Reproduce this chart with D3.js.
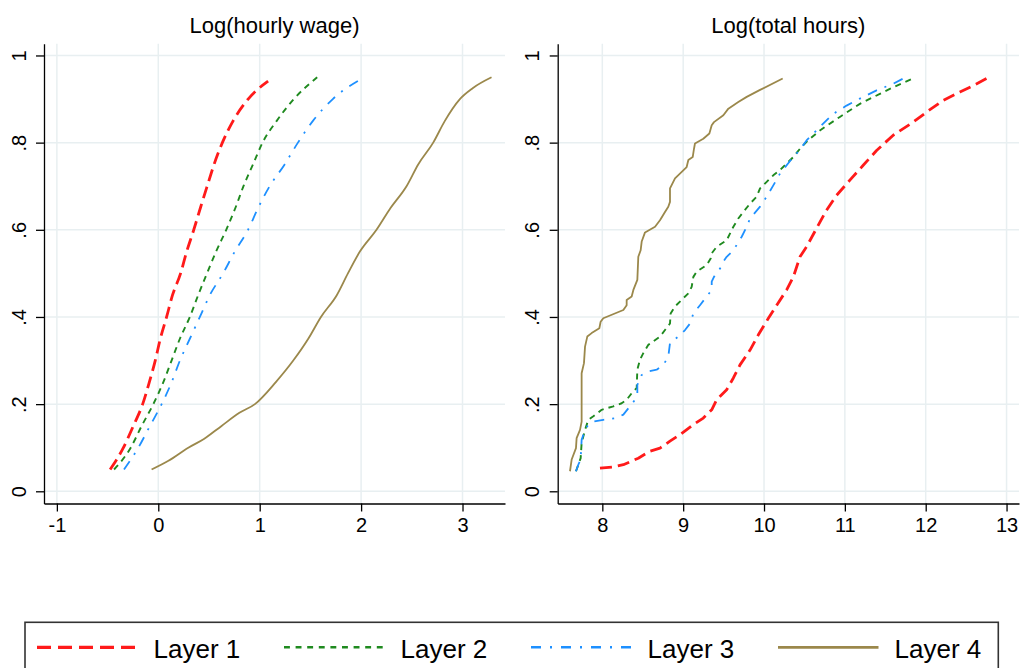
<!DOCTYPE html>
<html lang="en">
<head>
    <meta charset="UTF-8">
    <title>Quantiles by layer</title>
    <script src="https://d3js.org/d3.v7.min.js"></script>
    <style>
        body { margin: 0; background: #fff; }
        svg { display: block; font-family: "Liberation Sans", Arial, sans-serif; }
        .grid line { stroke: #e8eff1; stroke-width: 1.5; }
        .axis path, .axis line { stroke: #000; stroke-width: 1.3; }
        .axis text { font-size: 20px; fill: #000; font-family: "Liberation Sans", Arial, sans-serif; }
    </style>
</head>
<body>
    <svg id="chart" width="1020" height="668"></svg>

    <script>
        const W = 1020, H = 668;

        // Series names and styles
        const layers = ["Layer 1", "Layer 2", "Layer 3", "Layer 4"];
        const colors = ["#ff1a1a", "#1f8a1f", "#1e90ff", "#9b884b"];
        const widths = [2.8, 1.9, 1.8, 1.8];
        const dashes = ["12,6", "6,5", "10,8,2,8", null];
        const legendDashes = ["14,7", "5.9,5.7", "10,9,2,9", null];

        // Panel 1: log hourly wage, [value, cumulative share]
        const wageLayer1 = [[-0.475,0.05],[-0.344,0.1],[-0.246,0.15],[-0.154,0.2],[-0.089,0.25],[-0.03,0.3],
            [0.02,0.35],[0.082,0.4],[0.14,0.45],[0.22,0.5],[0.28,0.55],[0.35,0.6],[0.415,0.65],[0.482,0.7],
            [0.55,0.75],[0.632,0.8],[0.738,0.85],[0.886,0.9],[1.083,0.941]];
        const wageLayer2 = [[-0.436,0.05],[-0.272,0.1],[-0.164,0.15],[-0.049,0.2],[0.049,0.25],[0.131,0.3],
            [0.213,0.35],[0.311,0.4],[0.393,0.45],[0.48,0.5],[0.57,0.55],[0.67,0.6],[0.76,0.65],[0.84,0.7],
            [0.934,0.75],[1.028,0.8],[1.168,0.85],[1.337,0.9],[1.567,0.95]];
        const wageLayer3 = [[-0.338,0.05],[-0.197,0.1],[-0.082,0.15],[0.033,0.2],[0.131,0.25],[0.213,0.3],
            [0.311,0.35],[0.41,0.4],[0.508,0.45],[0.639,0.5],[0.754,0.55],[0.885,0.6],[0.984,0.65],[1.098,0.7],
            [1.246,0.75],[1.377,0.8],[1.525,0.85],[1.721,0.9],[2.015,0.948]];
        const wageLayer4 = [[-0.066,0.05],[0.1,0.07],[0.296,0.1],[0.45,0.12],[0.624,0.15],[0.8,0.18],[0.953,0.2],
            [1.157,0.25],[1.331,0.3],[1.479,0.35],[1.604,0.4],[1.76,0.45],[1.87,0.5],[1.988,0.55],
            [2.152,0.6],[2.29,0.65],[2.448,0.7],[2.563,0.75],[2.711,0.8],[2.826,0.85],[2.974,0.9],[3.1,0.925],[3.286,0.95]];

        // Panel 2: log total hours, [value, cumulative share]
        const hoursLayer1 = [[7.971,0.053],[8.136,0.056],[8.26,0.061],[8.445,0.076],[8.59,0.092],[8.713,0.099],
            [8.837,0.115],[8.961,0.13],[9.126,0.153],[9.249,0.168],[9.353,0.187],[9.414,0.21],[9.538,0.233],
            [9.621,0.26],[9.703,0.29],[9.827,0.324],[9.93,0.359],[9.992,0.378],[10.054,0.397],[10.157,0.427],
            [10.28,0.462],[10.363,0.492],[10.445,0.538],[10.526,0.561],[10.649,0.603],[10.773,0.645],
            [10.897,0.679],[11.062,0.714],[11.227,0.748],[11.392,0.782],[11.598,0.817],[11.845,0.847],
            [12.01,0.87],[12.216,0.897],[12.423,0.916],[12.588,0.931],[12.773,0.949]];
        const hoursLayer2 = [[7.674,0.046],[7.732,0.076],[7.744,0.111],[7.786,0.141],[7.827,0.164],[7.889,0.172],
            [7.992,0.187],[8.136,0.195],[8.239,0.202],[8.301,0.21],[8.363,0.225],[8.425,0.237],[8.433,0.279],
            [8.466,0.302],[8.507,0.317],[8.569,0.336],[8.713,0.355],[8.775,0.37],[8.837,0.385],[8.845,0.408],
            [8.899,0.424],[9.002,0.443],[9.064,0.454],[9.105,0.469],[9.126,0.492],[9.167,0.504],[9.291,0.519],
            [9.34,0.534],[9.353,0.546],[9.414,0.561],[9.538,0.576],[9.621,0.607],[9.682,0.626],[9.744,0.641],
            [9.827,0.66],[9.909,0.676],[9.951,0.695],[10.033,0.71],[10.115,0.725],[10.198,0.737],[10.28,0.752],
            [10.363,0.767],[10.445,0.786],[10.526,0.802],[10.691,0.828],[10.938,0.859],[11.186,0.889],
            [11.433,0.912],[11.598,0.927],[11.866,0.949]];
        const hoursLayer3 = [[7.674,0.046],[7.703,0.061],[7.732,0.073],[7.744,0.118],[7.786,0.141],[7.827,0.153],
            [7.889,0.16],[8.012,0.164],[8.177,0.168],[8.26,0.176],[8.342,0.195],[8.404,0.21],[8.433,0.225],
            [8.433,0.244],[8.487,0.267],[8.569,0.275],[8.672,0.279],[8.755,0.29],[8.816,0.309],[8.837,0.34],
            [8.94,0.355],[9.023,0.37],[9.085,0.385],[9.126,0.408],[9.208,0.427],[9.291,0.447],[9.353,0.462],
            [9.353,0.481],[9.381,0.492],[9.456,0.511],[9.497,0.527],[9.538,0.538],[9.621,0.553],[9.724,0.584],
            [9.786,0.607],[9.827,0.626],[9.951,0.653],[10.033,0.676],[10.115,0.702],[10.198,0.729],
            [10.322,0.758],[10.445,0.784],[10.526,0.805],[10.691,0.836],[10.856,0.866],[11.021,0.885],
            [11.186,0.901],[11.392,0.92],[11.598,0.935],[11.722,0.947]];
        const hoursLayer4 = [[7.6,0.046],[7.621,0.073],[7.674,0.099],[7.682,0.122],[7.724,0.141],[7.744,0.16],
            [7.744,0.271],[7.773,0.294],[7.786,0.332],[7.814,0.355],[7.868,0.363],[7.963,0.374],[7.979,0.389],
            [8.012,0.397],[8.26,0.416],[8.301,0.427],[8.301,0.439],[8.363,0.447],[8.384,0.462],[8.433,0.485],
            [8.445,0.538],[8.474,0.553],[8.487,0.573],[8.528,0.594],[8.652,0.607],[8.713,0.622],[8.775,0.641],
            [8.816,0.653],[8.837,0.664],[8.837,0.695],[8.899,0.718],[9.043,0.744],[9.064,0.76],[9.118,0.767],
            [9.134,0.786],[9.146,0.798],[9.249,0.809],[9.324,0.821],[9.353,0.84],[9.381,0.847],[9.497,0.863],
            [9.559,0.878],[9.682,0.893],[9.786,0.905],[9.951,0.921],[10.231,0.947]];

        // Axis ticks
        const yTicks = [0, 0.2, 0.4, 0.6, 0.8, 1];
        const yTickLabels = ["0", ".2", ".4", ".6", ".8", "1"];
        const wageTicks = [-1, 0, 1, 2, 3];
        const hoursTicks = [8, 9, 10, 11, 12, 13];

        const svg = d3.select("#chart");
        svg.append("rect").attr("width", W).attr("height", H).attr("fill", "#fff");

        const plotTop = 43.7, plotBottom = 503.5;
        const y = d3.scaleLinear().domain([-0.028, 1.027]).range([plotBottom, plotTop]);

        const panels = [
            { title: "Log(hourly wage)", left: 44, right: 505, domain: [-1.127, 3.419], ticks: wageTicks,
              curve: d3.curveMonotoneX, series: [wageLayer1, wageLayer2, wageLayer3, wageLayer4] },
            { title: "Log(total hours)", left: 557.7, right: 1019, domain: [7.448, 13.154], ticks: hoursTicks,
              curve: d3.curveLinear, series: [hoursLayer1, hoursLayer2, hoursLayer3, hoursLayer4] }
        ];

        panels.forEach(p => {
            const x = d3.scaleLinear().domain(p.domain).range([p.left, p.right]);
            const g = svg.append("g");

            // gridlines
            const grid = g.append("g").attr("class", "grid");
            grid.selectAll(".gy").data(yTicks).enter().append("line")
                .attr("x1", p.left).attr("x2", p.right)
                .attr("y1", d => y(d)).attr("y2", d => y(d));
            grid.selectAll(".gx").data(p.ticks).enter().append("line")
                .attr("x1", d => x(d)).attr("x2", d => x(d))
                .attr("y1", plotTop).attr("y2", plotBottom);

            // lines
            const line = d3.line().curve(p.curve).x(d => x(d[0])).y(d => y(d[1]));
            p.series.forEach((s, i) => {
                g.append("path")
                    .datum(s)
                    .attr("d", line)
                    .attr("fill", "none")
                    .attr("stroke", colors[i])
                    .attr("stroke-width", widths[i])
                    .attr("stroke-dasharray", dashes[i])
                    .attr("stroke-linejoin", "round");
            });

            // axes
            const yAxis = g.append("g").attr("class", "axis")
                .attr("transform", `translate(${p.left},0)`)
                .call(d3.axisLeft(y).tickValues(yTicks).tickSize(8).tickSizeOuter(0)
                    .tickFormat((d, i) => yTickLabels[i]));
            yAxis.selectAll("text")
                .attr("transform", "rotate(-90)")
                .attr("x", 0).attr("y", -18.5).attr("dy", 0)
                .attr("text-anchor", "middle");

            const xAxis = g.append("g").attr("class", "axis")
                .attr("transform", `translate(0,${plotBottom})`)
                .call(d3.axisBottom(x).tickValues(p.ticks).tickSize(8).tickSizeOuter(0)
                    .tickFormat(d => String(d)));
            xAxis.selectAll("text").attr("y", 28.2).attr("dy", 0);

            // title
            g.append("text")
                .attr("x", (p.left + p.right) / 2)
                .attr("y", 33.4)
                .attr("text-anchor", "middle")
                .attr("font-size", "22px")
                .text(p.title);
        });

        // Legend
        const legend = svg.append("g");
        legend.append("rect")
            .attr("x", 25).attr("y", 622.3)
            .attr("width", 973.3).attr("height", 70)
            .attr("fill", "none").attr("stroke", "#333").attr("stroke-width", 1.6);

        layers.forEach((name, i) => {
            const x0 = 37 + i * 247;
            legend.append("line")
                .attr("x1", x0).attr("x2", x0 + 100.5)
                .attr("y1", 647.3).attr("y2", 647.3)
                .attr("stroke", colors[i])
                .attr("stroke-width", [3.2, 2.4, 2.6, 2.8][i])
                .attr("stroke-dasharray", legendDashes[i]);
            legend.append("text")
                .attr("x", x0 + 116.5)
                .attr("y", 657.7)
                .attr("font-size", "26px")
                .text(name);
        });
    </script>
</body>
</html>
